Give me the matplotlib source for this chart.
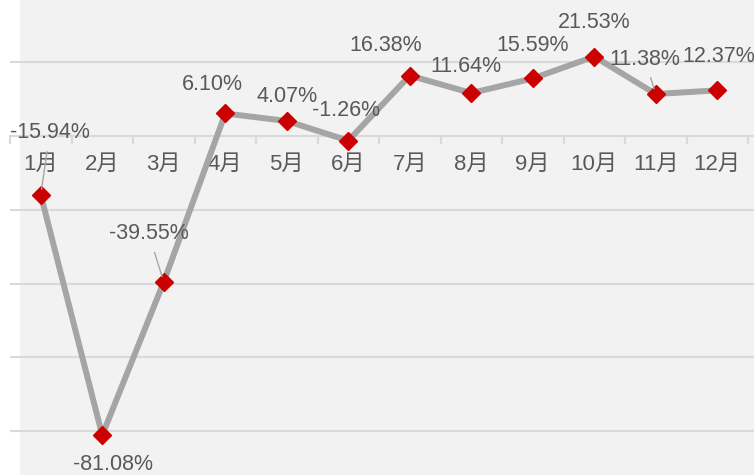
import numpy as np
import matplotlib
matplotlib.use('Agg')
import matplotlib.pyplot as plt
from matplotlib import font_manager as fm
from matplotlib.patches import Rectangle

months = ['1月', '2月', '3月', '4月', '5月', '6月', '7月', '8月', '9月', '10月', '11月', '12月']
growth = [-15.94, -81.08, -39.55, 6.10, 4.07, -1.26, 16.38, 11.64, 15.59, 21.53, 11.38, 12.37]
grid_vals = [20, 0, -20, -40, -60, -80]

# label offsets in pixels from each marker (dx, dy), and which get a leader line
lab_off = [(9, 62), (11, -29), (-15, 48), (-13, 29), (0, 24), (-2, 30),
           (-24, 30), (-5, 27), (0, 33), (0, 34), (-11, 35), (1, 34)]
leader = [True, False, True, False, False, False, False, False, False, False, True, False]

have = {f.name for f in fm.fontManager.ttflist}
narrow = 'Liberation Sans Narrow' if 'Liberation Sans Narrow' in have else 'Liberation Sans'
fam = [narrow, 'Noto Sans CJK SC', 'DejaVu Sans']
plt.rcParams['font.family'] = fam

W, H = 754, 475
fig = plt.figure(figsize=(W / 100, H / 100), dpi=100)
fig.patch.set_facecolor('white')
fig.patches.append(Rectangle((20 / W, 0), 1, 1, transform=fig.transFigure,
                             facecolor='#f2f2f2', edgecolor='none', zorder=-10))

px = 3.69  # pixels per unit
ax = fig.add_axes([10 / W, 0, (W - 10) / W, 1])
ax.set_facecolor('none')
ax.set_xlim(-0.5, 11.5 + 6 / 61.5)
ax.set_ylim(-(H - 136) / px, 136 / px)

x = np.arange(len(months))
for g in grid_vals:
    ax.axhline(g, color='#d9d9d9', lw=1.5, zorder=1)

ax.plot(x, growth, color='#a5a5a5', lw=4.3, zorder=3, solid_capstyle='round')
ax.plot(x, growth, ls='none', marker='D', ms=9.5, color='#cc0000', zorder=4)

for s in ['top', 'right', 'left']:
    ax.spines[s].set_visible(False)
ax.spines['bottom'].set_position(('data', 0))
ax.spines['bottom'].set_color('#d9d9d9')
ax.spines['bottom'].set_linewidth(1.5)
ax.spines['bottom'].set_bounds(-0.5, 11.5)
ax.set_yticks([])
ax.set_xticks(x)
ax.set_xticklabels(months, fontsize=16, color='#595959')
ax.tick_params(axis='x', which='major', length=0, pad=13)
ax.set_xticks(np.arange(-0.5, 12, 1), minor=True)
ax.tick_params(axis='x', which='minor', length=6, width=1.5, color='#d9d9d9', direction='out')

for i, v in enumerate(growth):
    dx, dy = lab_off[i]
    ap = dict(arrowstyle='-', color='#a6a6a6', lw=1, shrinkA=4, shrinkB=4) if leader[i] else None
    ax.annotate(f'{v:.2f}%', xy=(i, v), xytext=(dx, dy), textcoords='offset pixels',
                ha='center', va='center', fontsize=15.5, color='#595959',
                arrowprops=ap, zorder=5)

fig.savefig('out.png', dpi=100)
